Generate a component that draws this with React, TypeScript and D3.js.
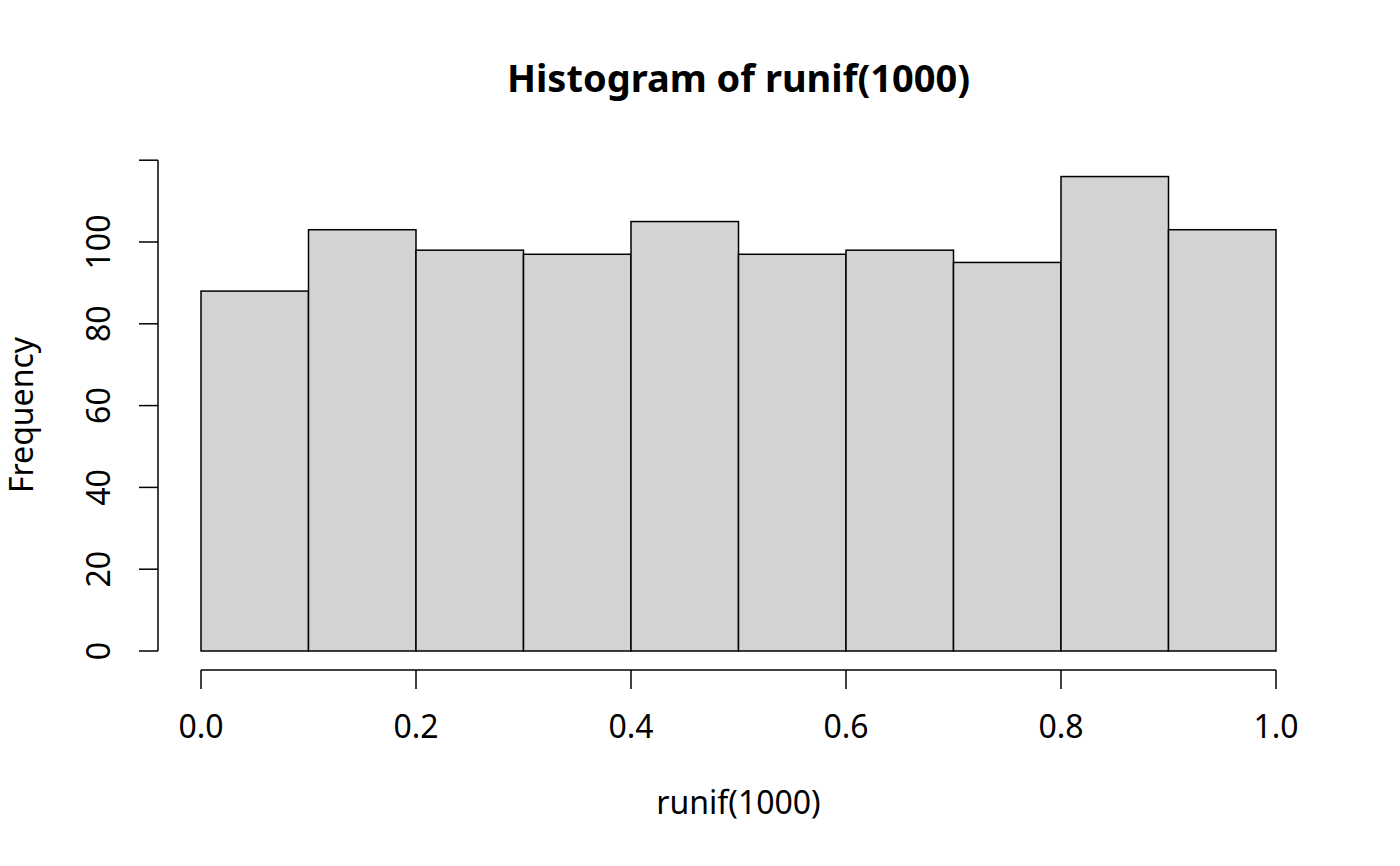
import * as d3 from 'd3'

const breaks = [0, 0.1, 0.2, 0.3, 0.4, 0.5, 0.6, 0.7, 0.8, 0.9, 1.0]
const counts = [88, 103, 98, 97, 105, 97, 98, 95, 116, 103]
const xTicks = [0, 0.2, 0.4, 0.6, 0.8, 1.0]
const yTicks = [0, 20, 40, 60, 80, 100, 120]
// R drops the top label (it would collide with the one below)
const yLabels = [0, 20, 40, 60, 80, 100]

const W = 1400
const H = 866
const font = '"Noto Sans", "Open Sans", sans-serif'

const App = () => {
  const x = d3.scaleLinear().domain([0, 1]).range([201, 1276])
  const y = d3.scaleLinear().domain([0, 100]).range([651, 242])
  const axisX = 158
  const axisY = 670
  const tick = 19

  return (
    <svg
      width={W}
      height={H}
      style={{ position: 'absolute', left: 0, top: 0, background: '#fff' }}
      fontFamily={font}
    >
      {counts.map((c, i) => (
        <rect
          key={i}
          x={x(breaks[i])}
          y={y(c)}
          width={x(breaks[i + 1]) - x(breaks[i])}
          height={y(0) - y(c)}
          fill="#d3d3d3"
          stroke="#000"
          strokeWidth={1.5}
        />
      ))}

      {/* y axis */}
      <line x1={axisX} x2={axisX} y1={y(0)} y2={y(120)} stroke="#000" strokeWidth={1.5} />
      {yTicks.map(t => (
        <line key={t} x1={axisX - tick} x2={axisX} y1={y(t)} y2={y(t)} stroke="#000" strokeWidth={1.5} />
      ))}
      {yLabels.map(t => (
        <text
          key={t}
          transform={`translate(${110},${y(t)}) rotate(-90)`}
          textAnchor="middle"
          fontSize={32}
        >
          {t}
        </text>
      ))}

      {/* x axis */}
      <line x1={x(0)} x2={x(1)} y1={axisY} y2={axisY} stroke="#000" strokeWidth={1.5} />
      {xTicks.map(t => (
        <g key={t}>
          <line x1={x(t)} x2={x(t)} y1={axisY} y2={axisY + tick} stroke="#000" strokeWidth={1.5} />
          <text x={x(t)} y={738} textAnchor="middle" fontSize={32}>
            {t.toFixed(1)}
          </text>
        </g>
      ))}

      <text x={738.5} y={92} textAnchor="middle" fontSize={38} fontWeight="bold">
        Histogram of runif(1000)
      </text>
      <text x={738.5} y={814} textAnchor="middle" fontSize={32}>
        runif(1000)
      </text>
      <text transform={`translate(33,${415}) rotate(-90)`} textAnchor="middle" fontSize={32}>
        Frequency
      </text>
    </svg>
  )
}

export default App
